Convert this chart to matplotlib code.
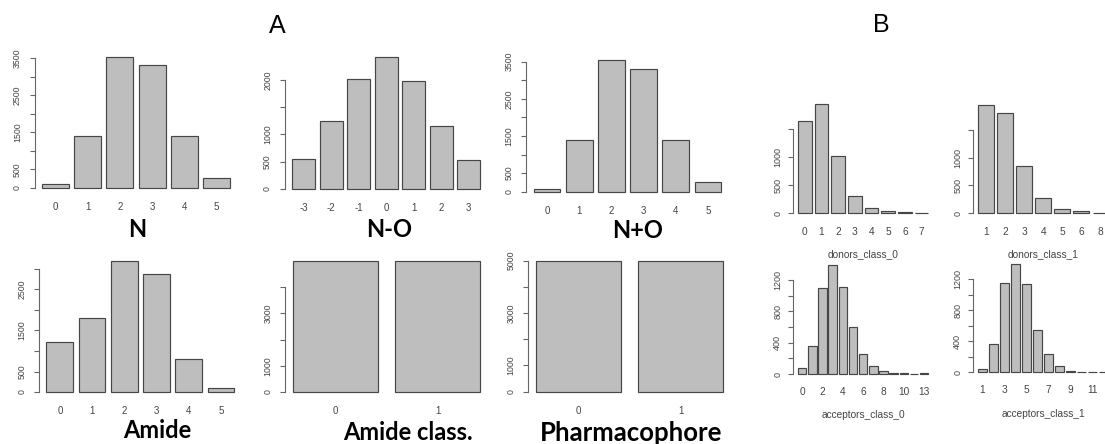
import numpy as np
import matplotlib
matplotlib.use("Agg")
import matplotlib.pyplot as plt

# counts per category for each descriptor
n_cats = ["0", "1", "2", "3", "4", "5"]
n_counts = [90, 1400, 3547, 3312, 1390, 271]

n_minus_o_cats = ["-3", "-2", "-1", "0", "1", "2", "3"]
n_minus_o_counts = [550, 1248, 2024, 2416, 1988, 1162, 526]

n_plus_o_cats = ["0", "1", "2", "3", "4", "5"]
n_plus_o_counts = [82, 1400, 3546, 3304, 1400, 269]

amide_cats = ["0", "1", "2", "3", "4", "5"]
amide_counts = [1209, 1802, 3198, 2873, 812, 105]

amide_class_cats = ["0", "1"]
amide_class_counts = [5000, 5000]

pharm_cats = ["0", "1"]
pharm_counts = [5000, 5000]

donors0_cats = ["0", "1", "2", "3", "4", "5", "6", "7"]
donors0_counts = [1635, 1930, 1015, 305, 90, 40, 20, 8]

donors1_cats = ["1", "2", "3", "4", "5", "6", "8"]
donors1_counts = [1950, 1800, 845, 268, 70, 33, 10]

acc0_cats = ["0", "1", "2", "3", "4", "5", "6", "7", "8", "9", "10", "11", "13"]
acc0_counts = [72, 357, 1100, 1394, 1115, 598, 252, 100, 36, 8, 8, 3, 8]

acc1_cats = ["1", "2", "3", "4", "5", "6", "7", "8", "9", "10", "11", "12"]
acc1_counts = [39, 366, 1148, 1398, 1140, 546, 232, 86, 21, 5, 5, 5]

W, H = 1105, 444
BAR = "#bebebe"
EDGE = "#464646"
AXIS = "#666666"
TXT = "#444444"

fig = plt.figure(figsize=(W / 100, H / 100), dpi=100)


def ftext(x, y, s, **kw):
    # place text by pixel position (origin top-left)
    fig.text(x / W, 1 - y / H, s, **kw)


def barplot(box, cats, counts, yticks, ylabeled, xevery=1, yfs=6.3, xfs=7,
            ygap=17, xgap=19, xlabel=None, xlabel_y=None):
    left, top, width, height = box
    ax = fig.add_axes([left / W, 1 - (top + height) / H, width / W, height / H])
    n = len(counts)
    centers = 0.7 + 1.2 * np.arange(n)
    span = 1.2 * n - 0.2
    x0, x1 = 0.2 - 0.04 * span, 1.2 * n + 0.04 * span
    m = max(counts)
    y0, y1 = -0.04 * m, 1.04 * m
    ax.set_xlim(x0, x1)
    ax.set_ylim(y0, y1)
    ax.bar(centers, counts, width=1.0, color=BAR, edgecolor=EDGE, linewidth=0.85)

    for side in ["top", "right", "bottom"]:
        ax.spines[side].set_visible(False)
    ax.spines["left"].set_bounds(yticks[0], yticks[-1])
    ax.spines["left"].set_color(AXIS)
    ax.spines["left"].set_linewidth(0.8)
    ax.set_xticks([])
    ax.set_yticks(yticks)
    ax.tick_params(axis="y", labelleft=False, length=3.3, width=0.8, color=AXIS)
    ax.patch.set_alpha(0)

    def px(xv, yv):
        return (left + (xv - x0) / (x1 - x0) * width,
                top + (y1 - yv) / (y1 - y0) * height)

    for v in ylabeled:
        xp, yp = px(x0, v)
        ftext(xp - ygap, yp, str(v), rotation=90, ha="center", va="center",
              fontsize=yfs, color=TXT, family="Liberation Sans")
    for i, c in enumerate(cats):
        if i % xevery:
            continue
        xp, yp = px(centers[i], 0)
        ftext(xp, yp + xgap, c, ha="center", va="center",
              fontsize=xfs, color=TXT, family="Liberation Sans")
    if xlabel:
        ftext(left + width / 2, xlabel_y, xlabel, ha="center", va="center",
              fontsize=xfs, color=TXT, family="Liberation Sans")
    return ax


# panel A, top row
barplot((34.5, 51.4, 203, 141.5), n_cats, n_counts,
        list(range(0, 3501, 500)), [0, 500, 1500, 2500, 3500])
barplot((284.6, 52.0, 203, 142.3), n_minus_o_cats, n_minus_o_counts,
        list(range(0, 2001, 500)), [0, 500, 1000, 2000])
barplot((526, 54.7, 203, 142.3), n_plus_o_cats, n_plus_o_counts,
        list(range(0, 3501, 500)), [0, 500, 1500, 2500, 3500])

# panel A, bottom row
barplot((38.9, 255.4, 203, 141.9), amide_cats, amide_counts,
        list(range(0, 3001, 500)), [0, 500, 1500, 2500])
barplot((285, 255.7, 203, 141.5), amide_class_cats, amide_class_counts,
        list(range(0, 4001, 1000)), [0, 1000, 3000])
barplot((528, 255.5, 203, 141.4), pharm_cats, pharm_counts,
        list(range(0, 5001, 1000)), [0, 1000, 3000, 5000])

# panel B
b_kw = dict(yfs=6.5, xfs=7.3, ygap=15)
barplot((792.7, 100, 141, 117.7), donors0_cats, donors0_counts,
        list(range(0, 1501, 500)), [0, 500, 1000], xgap=18.4,
        xlabel="donors_class_0", xlabel_y=254, **b_kw)
barplot((972.7, 100.4, 141, 117.2), donors1_cats, donors1_counts,
        list(range(0, 1501, 500)), [0, 500, 1000], xgap=18.4,
        xlabel="donors_class_1", xlabel_y=254, **b_kw)
barplot((792.7, 260.3, 141, 118.1), acc0_cats, acc0_counts,
        list(range(0, 1201, 200)), [0, 400, 800, 1200], xevery=2, xgap=18,
        xlabel="acceptors_class_0", xlabel_y=415, **b_kw)
barplot((972.7, 259.7, 141, 116.9), acc1_cats, acc1_counts,
        list(range(0, 1201, 200)), [0, 400, 800, 1200], xevery=2, xgap=18,
        xlabel="acceptors_class_1", xlabel_y=414, **b_kw)

# descriptor names under each histogram
title_kw = dict(ha="center", va="baseline", fontweight="bold",
                family="Lato", color="black")
ftext(137.5, 236.7, "N", fontsize=17, **title_kw)
ftext(389, 236.7, "N-O", fontsize=17, **title_kw)
ftext(637.5, 238, "N+O", fontsize=17, **title_kw)
ftext(157.3, 437.5, "Amide", fontsize=17, **title_kw)
ftext(408.3, 440, "Amide class.", fontsize=17, **title_kw)
ftext(631, 441, "Pharmacophore", fontsize=18.5, **title_kw)

# panel letters
ftext(277, 33, "A", ha="center", va="baseline", fontsize=18,
      family="Liberation Sans", color="black")
ftext(881.5, 32, "B", ha="center", va="baseline", fontsize=18,
      family="Liberation Sans", color="black")

fig.savefig("out.png", dpi=100, facecolor="white")
